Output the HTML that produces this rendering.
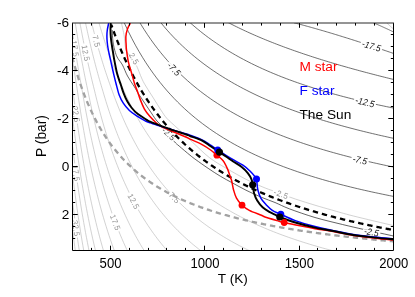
<!DOCTYPE html>
<html><head><meta charset="utf-8"><title>T-P profile</title>
<style>html,body{margin:0;padding:0;background:#fff}body{width:415px;height:297px;overflow:hidden;position:relative;font-family:"Liberation Sans",sans-serif}</style>
</head><body>
<svg width="415" height="297" viewBox="0 0 415 297" style="position:absolute;left:0;top:0;will-change:transform">
<defs><clipPath id="cp"><rect x="72.50" y="23.00" width="321.00" height="227.50"/></clipPath></defs>
<g clip-path="url(#cp)" fill="none">
<path d="M97.88,19.00 L97.89,19.04 L97.93,19.18 L97.99,19.40 L98.08,19.72 L98.20,20.12 L98.34,20.61 L98.50,21.18 L98.69,21.84 L98.91,22.59 L99.15,23.42 L99.42,24.34 L99.71,25.33 L100.03,26.40 L100.38,27.55 L100.74,28.78 L101.14,30.08 L101.56,31.45 L102.00,32.89 L102.47,34.40 L102.97,35.97 L103.49,37.61 L104.03,39.31 L104.60,41.06 L105.19,42.88 L105.81,44.74 L106.46,46.66 L107.12,48.62 L107.82,50.63 L108.54,52.68 L109.28,54.78 L110.05,56.91 L110.84,59.08 L111.65,61.28 L112.49,63.52 L113.36,65.78 L114.25,68.07 L115.16,70.38 L116.10,72.71 L117.06,75.06 L118.05,77.44 L119.06,79.82 L120.09,82.22 L121.15,84.63 L122.23,87.05 L123.33,89.48 L124.43,91.91 L125.53,94.35 L126.66,96.79 L127.82,99.23 L129.00,101.67 L130.20,104.10 L131.42,106.53 L132.67,108.96 L133.94,111.38 L135.24,113.79 L136.56,116.20 L137.91,118.59 L139.27,120.97 L140.67,123.34 L142.08,125.70 L143.52,128.04 L144.98,130.37 L146.47,132.68 L147.98,134.98 L149.52,137.26 L151.07,139.52 L152.66,141.76 L154.26,143.99 L155.89,146.19 L157.55,148.38 L159.22,150.54 L160.92,152.69 L162.65,154.81 L164.40,156.92 L166.17,159.00 L167.97,161.06 L169.79,163.10 L171.63,165.12 L173.50,167.11 L175.39,169.08 L177.31,171.03 L179.24,172.96 L181.21,174.87 L183.19,176.75 L185.20,178.61 L187.24,180.45 L189.30,182.27 L191.38,184.06 L193.48,185.83 L195.61,187.58 L197.77,189.31 L199.94,191.01 L202.14,192.70 L204.37,194.36 L206.62,196.00 L208.89,197.62 L211.19,199.21 L213.51,200.79 L215.85,202.34 L218.22,203.88 L220.61,205.39 L223.02,206.89 L225.46,208.36 L227.92,209.81 L230.41,211.24 L232.92,212.66 L235.45,214.05 L238.01,215.43 L240.59,216.78 L243.20,218.12 L245.83,219.44 L248.48,220.74 L251.16,222.02 L253.86,223.29 L256.58,224.54 L259.33,225.77 L262.10,226.98 L264.90,228.17 L267.72,229.35 L270.56,230.52 L273.43,231.66 L276.32,232.79 L279.23,233.91 L282.17,235.01 L285.13,236.09 L288.12,237.16 L291.13,238.21 L294.16,239.25 L297.22,240.27 L300.30,241.28 L303.40,242.28 L306.53,243.26 L309.69,244.23 L312.86,245.18 L316.06,246.12 L319.29,247.05 L322.53,247.97 L325.80,248.87 L329.10,249.76 L332.42,250.64 L335.76,251.51 L339.13,252.36 L342.52,253.20 L345.93,254.03 L349.37,254.85 L352.83,255.66 L356.32,256.46" stroke="#b4b4b4" stroke-width="0.6"/>
<path d="M90.73,19.00 L90.74,19.05 L90.78,19.22 L90.84,19.49 L90.94,19.88 L91.06,20.37 L91.20,20.97 L91.37,21.67 L91.57,22.48 L91.80,23.39 L92.05,24.41 L92.33,25.52 L92.63,26.73 L92.96,28.04 L93.31,29.44 L93.70,30.93 L94.11,32.51 L94.54,34.18 L95.00,35.93 L95.49,37.75 L96.00,39.66 L96.54,41.64 L97.10,43.68 L97.69,45.80 L98.30,47.98 L98.94,50.22 L99.61,52.52 L100.30,54.88 L101.02,57.28 L101.76,59.74 L102.53,62.23 L103.32,64.77 L104.13,67.35 L104.98,69.97 L105.84,72.62 L106.74,75.29 L107.65,77.99 L108.60,80.72 L109.56,83.47 L110.55,86.23 L111.57,89.02 L112.58,91.81 L113.59,94.62 L114.62,97.43 L115.68,100.25 L116.77,103.07 L117.87,105.89 L119.01,108.72 L120.16,111.54 L121.34,114.35 L122.55,117.16 L123.78,119.96 L125.03,122.76 L126.31,125.54 L127.62,128.31 L128.94,131.06 L130.30,133.80 L131.67,136.52 L133.07,139.23 L134.50,141.92 L135.95,144.59 L137.42,147.23 L138.92,149.86 L140.44,152.46 L141.99,155.05 L143.56,157.60 L145.15,160.14 L146.77,162.65 L148.42,165.13 L150.09,167.59 L151.78,170.03 L153.50,172.43 L155.24,174.81 L157.00,177.17 L158.80,179.50 L160.61,181.80 L162.45,184.07 L164.31,186.32 L166.20,188.53 L168.11,190.72 L170.05,192.89 L172.01,195.02 L173.99,197.13 L176.00,199.21 L178.04,201.27 L180.10,203.29 L182.18,205.29 L184.29,207.27 L186.42,209.21 L188.57,211.13 L190.75,213.03 L192.96,214.89 L195.19,216.73 L197.44,218.55 L199.72,220.34 L202.02,222.10 L204.34,223.84 L206.70,225.55 L209.07,227.24 L211.47,228.91 L213.89,230.55 L216.34,232.17 L218.81,233.76 L221.31,235.33 L223.83,236.88 L226.38,238.40 L228.95,239.91 L231.54,241.39 L234.16,242.84 L236.80,244.28 L239.47,245.70 L242.16,247.09 L244.88,248.47 L247.62,249.82 L250.38,251.16 L253.17,252.47 L255.98,253.76 L258.82,255.04 L261.68,256.30" stroke="#b4b4b4" stroke-width="0.6"/>
<path d="M84.70,19.00 L84.72,19.07 L84.76,19.26 L84.83,19.59 L84.92,20.05 L85.04,20.64 L85.20,21.36 L85.37,22.21 L85.58,23.18 L85.81,24.27 L86.07,25.49 L86.36,26.82 L86.67,28.27 L87.01,29.84 L87.38,31.51 L87.77,33.29 L88.20,35.17 L88.64,37.16 L89.12,39.24 L89.62,41.41 L90.15,43.67 L90.70,46.02 L91.28,48.44 L91.89,50.95 L92.52,53.52 L93.18,56.17 L93.87,58.88 L94.58,61.64 L95.32,64.47 L96.08,67.35 L96.87,70.27 L97.69,73.25 L98.53,76.26 L99.40,79.30 L100.29,82.38 L101.20,85.49 L102.15,88.63 L103.08,91.79 L104.01,94.96 L104.97,98.16 L105.95,101.36 L106.95,104.58 L107.98,107.80 L109.04,111.02 L110.12,114.25 L111.23,117.47 L112.36,120.69 L113.51,123.90 L114.69,127.11 L115.89,130.31 L117.12,133.49 L118.38,136.66 L119.66,139.81 L120.96,142.94 L122.29,146.06 L123.64,149.15 L125.02,152.22 L126.42,155.27 L127.85,158.30 L129.30,161.30 L130.78,164.27 L132.28,167.21 L133.81,170.13 L135.36,173.02 L136.94,175.88 L138.54,178.71 L140.17,181.50 L141.82,184.27 L143.50,187.00 L145.20,189.71 L146.92,192.38 L148.68,195.02 L150.45,197.62 L152.25,200.19 L154.08,202.73 L155.93,205.24 L157.80,207.71 L159.70,210.15 L161.63,212.56 L163.58,214.93 L165.55,217.28 L167.55,219.59 L169.57,221.86 L171.62,224.11 L173.70,226.32 L175.79,228.50 L177.92,230.65 L180.07,232.77 L182.24,234.85 L184.44,236.91 L186.66,238.93 L188.91,240.93 L191.18,242.89 L193.48,244.83 L195.80,246.73 L198.15,248.61 L200.52,250.46 L202.91,252.28 L205.34,254.07 L207.78,255.83" stroke="#b4b4b4" stroke-width="0.6"/>
<path d="M79.24,19.00 L79.25,19.08 L79.30,19.32 L79.37,19.71 L79.47,20.26 L79.59,20.97 L79.75,21.82 L79.93,22.83 L80.15,23.99 L80.39,25.30 L80.65,26.75 L80.95,28.34 L81.27,30.06 L81.63,31.92 L82.01,33.91 L82.41,36.03 L82.85,38.26 L83.31,40.61 L83.80,43.07 L84.32,45.64 L84.86,48.31 L85.43,51.08 L86.03,53.94 L86.66,56.88 L87.31,59.91 L87.99,63.01 L88.70,66.18 L89.43,69.42 L90.19,72.72 L90.97,76.07 L91.78,79.48 L92.62,82.93 L93.49,86.43 L94.37,89.96 L95.22,93.52 L96.09,97.11 L96.99,100.72 L97.91,104.35 L98.86,108.00 L99.83,111.66 L100.83,115.33 L101.85,119.00 L102.90,122.68 L103.98,126.35 L105.08,130.02 L106.20,133.67 L107.35,137.32 L108.52,140.96 L109.72,144.58 L110.95,148.18 L112.20,151.76 L113.48,155.31 L114.78,158.85 L116.10,162.36 L117.46,165.84 L118.83,169.29 L120.24,172.71 L121.66,176.10 L123.12,179.46 L124.59,182.78 L126.10,186.07 L127.63,189.33 L129.18,192.54 L130.76,195.72 L132.36,198.87 L133.99,201.97 L135.65,205.04 L137.33,208.07 L139.03,211.06 L140.76,214.01 L142.52,216.92 L144.30,219.79 L146.11,222.62 L147.94,225.42 L149.80,228.17 L151.68,230.88 L153.59,233.56 L155.52,236.19 L157.48,238.79 L159.46,241.35 L161.47,243.87 L163.50,246.35 L165.56,248.79 L167.65,251.20 L169.76,253.57 L171.89,255.90" stroke="#b4b4b4" stroke-width="0.6"/>
<path d="M74.64,19.00 L74.65,19.09 L74.69,19.37 L74.77,19.83 L74.87,20.48 L75.00,21.31 L75.16,22.32 L75.35,23.50 L75.57,24.86 L75.82,26.40 L76.09,28.09 L76.40,29.96 L76.73,31.98 L77.10,34.15 L77.49,36.47 L77.91,38.94 L78.35,41.55 L78.83,44.28 L79.33,47.15 L79.87,50.13 L80.43,53.23 L81.01,56.44 L81.63,59.75 L82.27,63.15 L82.94,66.65 L83.64,70.23 L84.36,73.88 L85.11,77.60 L85.89,81.39 L86.70,85.24 L87.53,89.14 L88.33,93.09 L89.14,97.07 L89.97,101.10 L90.83,105.15 L91.71,109.23 L92.62,113.32 L93.56,117.44 L94.52,121.56 L95.51,125.69 L96.52,129.83 L97.56,133.96 L98.62,138.08 L99.71,142.20 L100.82,146.30 L101.96,150.39 L103.13,154.46 L104.32,158.51 L105.54,162.54 L106.78,166.53 L108.05,170.50 L109.35,174.44 L110.67,178.35 L112.01,182.22 L113.38,186.05 L114.78,189.85 L116.20,193.61 L117.65,197.33 L119.12,201.01 L120.62,204.64 L122.15,208.23 L123.70,211.78 L125.28,215.28 L126.88,218.74 L128.50,222.16 L130.16,225.52 L131.84,228.85 L133.54,232.12 L135.27,235.35 L137.03,238.53 L138.81,241.67 L140.62,244.76 L142.45,247.80 L144.31,250.80 L146.19,253.75" stroke="#b4b4b4" stroke-width="0.6"/>
<path d="M70.64,19.00 L70.66,19.11 L70.70,19.43 L70.78,19.97 L70.88,20.72 L71.02,21.68 L71.18,22.85 L71.38,24.23 L71.60,25.80 L71.86,27.58 L72.14,29.54 L72.46,31.70 L72.80,34.03 L73.17,36.54 L73.58,39.23 L74.01,42.07 L74.47,45.07 L74.96,48.22 L75.48,51.51 L76.02,54.94 L76.60,58.50 L77.20,62.17 L77.83,65.96 L78.49,69.85 L79.18,73.83 L79.89,77.91 L80.64,82.07 L81.40,86.30 L82.19,90.60 L82.93,94.96 L83.70,99.37 L84.49,103.83 L85.30,108.33 L86.15,112.86 L87.02,117.41 L87.91,121.99 L88.83,126.59 L89.78,131.19 L90.75,135.80 L91.75,140.41 L92.78,145.01 L93.83,149.61 L94.90,154.19 L96.01,158.75 L97.14,163.30 L98.29,167.82 L99.47,172.31 L100.68,176.77 L101.91,181.20 L103.17,185.59 L104.45,189.95 L105.76,194.26 L107.10,198.53 L108.46,202.76 L109.85,206.95 L111.26,211.08 L112.70,215.17 L114.17,219.21 L115.66,223.20 L117.18,227.13 L118.72,231.02 L120.29,234.85 L121.89,238.63 L123.51,242.35 L125.16,246.03 L126.83,249.65 L128.53,253.21" stroke="#b4b4b4" stroke-width="0.6"/>
<path d="M68.30,28.07 L68.31,28.19 L68.36,28.55 L68.44,29.14 L68.54,29.97 L68.68,31.03 L68.85,32.32 L69.05,33.84 L69.28,35.58 L69.54,37.54 L69.83,39.70 L70.15,42.07 L70.50,44.65 L70.88,47.41 L71.29,50.36 L71.73,53.48 L72.20,56.78 L72.70,60.24 L73.23,63.85 L73.78,67.60 L74.37,71.49 L74.98,75.51 L75.63,79.65 L76.30,83.90 L77.00,88.25 L77.67,92.69 L78.34,97.22 L79.03,101.82 L79.75,106.49 L80.49,111.23 L81.27,116.01 L82.06,120.84 L82.89,125.71 L83.74,130.61 L84.61,135.53 L85.51,140.47 L86.44,145.42 L87.40,150.37 L88.38,155.33 L89.38,160.28 L90.42,165.22 L91.48,170.15 L92.56,175.05 L93.67,179.94 L94.81,184.79 L95.97,189.62 L97.16,194.41 L98.38,199.16 L99.62,203.87 L100.89,208.54 L102.18,213.16 L103.50,217.74 L104.85,222.27 L106.22,226.74 L107.62,231.17 L109.05,235.54 L110.50,239.85 L111.97,244.11 L113.48,248.32 L115.01,252.46" stroke="#b4b4b4" stroke-width="0.6"/>
<path d="M68.94,61.07 L68.95,61.19 L69.00,61.55 L69.08,62.14 L69.18,62.97 L69.32,64.03 L69.49,65.32 L69.69,66.84 L69.92,68.58 L70.18,70.54 L70.47,72.70 L70.79,75.07 L71.14,77.65 L71.52,80.41 L71.93,83.36 L72.37,86.48 L72.84,89.78 L73.28,93.24 L73.74,96.85 L74.22,100.60 L74.73,104.49 L75.27,108.51 L75.83,112.65 L76.42,116.90 L77.03,121.25 L77.67,125.69 L78.34,130.22 L79.03,134.82 L79.75,139.49 L80.49,144.23 L81.27,149.01 L82.06,153.84 L82.89,158.71 L83.74,163.61 L84.61,168.53 L85.51,173.47 L86.44,178.42 L87.40,183.37 L88.38,188.33 L89.38,193.28 L90.42,198.22 L91.48,203.15 L92.56,208.05 L93.67,212.94 L94.81,217.79 L95.97,222.62 L97.16,227.41 L98.38,232.16 L99.62,236.87 L100.89,241.54 L102.18,246.16 L103.50,250.74 L104.85,255.27" stroke="#b4b4b4" stroke-width="0.6"/>
<path d="M69.50,91.07 L69.51,91.19 L69.55,91.55 L69.62,92.14 L69.71,92.97 L69.83,94.03 L69.97,95.32 L70.14,96.84 L70.34,98.58 L70.56,100.54 L70.81,102.70 L71.08,105.07 L71.38,107.65 L71.71,110.41 L72.06,113.36 L72.44,116.48 L72.85,119.78 L73.28,123.24 L73.74,126.85 L74.22,130.60 L74.73,134.49 L75.27,138.51 L75.83,142.65 L76.42,146.90 L77.03,151.25 L77.67,155.69 L78.34,160.22 L79.03,164.82 L79.75,169.49 L80.49,174.23 L81.27,179.01 L82.06,183.84 L82.89,188.71 L83.74,193.61 L84.61,198.53 L85.51,203.47 L86.44,208.42 L87.40,213.37 L88.38,218.33 L89.38,223.28 L90.42,228.22 L91.48,233.15 L92.56,238.05 L93.67,242.94 L94.81,247.79 L95.97,252.62" stroke="#b4b4b4" stroke-width="0.6"/>
<path d="M69.50,120.07 L69.51,120.19 L69.55,120.55 L69.62,121.14 L69.71,121.97 L69.83,123.03 L69.97,124.32 L70.14,125.84 L70.34,127.58 L70.56,129.54 L70.81,131.70 L71.08,134.07 L71.38,136.65 L71.71,139.41 L72.06,142.36 L72.44,145.48 L72.85,148.78 L73.28,152.24 L73.74,155.85 L74.22,159.60 L74.73,163.49 L75.27,167.51 L75.83,171.65 L76.42,175.90 L77.03,180.25 L77.67,184.69 L78.34,189.22 L79.03,193.82 L79.75,198.49 L80.49,203.23 L81.27,208.01 L82.06,212.84 L82.89,217.71 L83.74,222.61 L84.61,227.53 L85.51,232.47 L86.44,237.42 L87.40,242.37 L88.38,247.33 L89.38,252.28" stroke="#b4b4b4" stroke-width="0.6"/>
<path d="M69.50,148.07 L69.51,148.19 L69.55,148.55 L69.62,149.14 L69.71,149.97 L69.83,151.03 L69.97,152.32 L70.14,153.84 L70.34,155.58 L70.56,157.54 L70.81,159.70 L71.08,162.07 L71.38,164.65 L71.71,167.41 L72.06,170.36 L72.44,173.48 L72.85,176.78 L73.28,180.24 L73.74,183.85 L74.22,187.60 L74.73,191.49 L75.27,195.51 L75.83,199.65 L76.42,203.90 L77.03,208.25 L77.67,212.69 L78.34,217.22 L79.03,221.82 L79.75,226.49 L80.49,231.23 L81.27,236.01 L82.06,240.84 L82.89,245.71 L83.74,250.61 L84.61,255.53" stroke="#b4b4b4" stroke-width="0.6"/>
<path d="M69.50,175.07 L69.51,175.19 L69.55,175.55 L69.62,176.14 L69.71,176.97 L69.83,178.03 L69.97,179.32 L70.14,180.84 L70.34,182.58 L70.56,184.54 L70.81,186.70 L71.08,189.07 L71.38,191.65 L71.71,194.41 L72.06,197.36 L72.44,200.48 L72.85,203.78 L73.28,207.24 L73.74,210.85 L74.22,214.60 L74.73,218.49 L75.27,222.51 L75.83,226.65 L76.42,230.90 L77.03,235.25 L77.67,239.69 L78.34,244.22 L79.03,248.82 L79.75,253.49" stroke="#b4b4b4" stroke-width="0.6"/>
<path d="M69.50,203.07 L69.51,203.19 L69.55,203.55 L69.62,204.14 L69.71,204.97 L69.83,206.03 L69.97,207.32 L70.14,208.84 L70.34,210.58 L70.56,212.54 L70.81,214.70 L71.08,217.07 L71.38,219.65 L71.71,222.41 L72.06,225.36 L72.44,228.48 L72.85,231.78 L73.28,235.24 L73.74,238.85 L74.22,242.60 L74.73,246.49 L75.27,250.51 L75.83,254.65" stroke="#b4b4b4" stroke-width="0.6"/>
<path d="M121.50,23.00 C121.95,25.17 123.58,32.20 124.20,36.00 C124.82,39.80 124.80,43.20 125.20,45.80 C125.60,48.40 125.63,49.73 126.60,51.60 C127.57,53.47 129.43,54.85 131.00,57.00 C132.57,59.15 134.17,60.83 136.00,64.50 C137.83,68.17 140.27,75.25 142.00,79.00 C143.73,82.75 144.40,83.67 146.40,87.00 C148.40,90.33 151.58,95.17 154.00,99.00 C156.42,102.83 158.73,106.75 160.90,110.00 C163.07,113.25 164.17,115.40 167.00,118.50 C169.83,121.60 173.67,124.67 177.90,128.60 C182.13,132.53 187.17,137.28 192.40,142.10 C197.63,146.92 203.65,153.13 209.30,157.50 C214.95,161.87 220.18,164.67 226.30,168.30 C232.42,171.93 240.05,176.23 246.00,179.30 C251.95,182.37 257.17,184.65 262.00,186.70 C266.83,188.75 269.45,189.55 275.00,191.60 C280.55,193.65 288.63,196.73 295.30,199.00 C301.97,201.27 308.93,203.37 315.00,205.20 C321.07,207.03 325.30,208.20 331.70,210.00 C338.10,211.80 343.10,213.40 353.40,216.00 C363.70,218.60 386.82,224.00 393.50,225.60" stroke="#b4b4b4" stroke-width="0.6"/>
<path d="M386.8,23 L393.5,29" stroke="#b4b4b4" stroke-width="0.6"/>
<path d="M121.30,16.10 L124.83,24.07 L128.36,31.54 L131.88,38.56 L135.41,45.16 L138.94,51.39 L142.47,57.28 L145.99,62.85 L149.52,68.13 L153.05,73.14 L156.58,77.91 L160.11,82.44 L163.63,86.76 L167.16,90.88 L170.69,94.81 L174.22,98.57 L177.75,102.17 L181.27,105.62 L184.80,108.93 L188.33,112.10 L191.86,115.15 L195.38,118.08 L198.91,120.90 L202.44,123.62 L205.97,126.23 L209.50,128.76 L213.02,131.19 L216.55,133.54 L220.08,135.81 L223.61,138.01 L227.14,140.14 L230.66,142.19 L234.19,144.19 L237.72,146.12 L241.25,147.99 L244.77,149.80 L248.30,151.57 L251.83,153.28 L255.36,154.94 L258.89,156.56 L262.41,158.13 L265.94,159.65 L269.47,161.14 L273.00,162.59 L276.53,164.00 L280.05,165.37 L283.58,166.71 L287.11,168.02 L290.64,169.29 L294.16,170.53 L297.69,171.75 L301.22,172.93 L304.75,174.09 L308.28,175.22 L311.80,176.32 L315.33,177.40 L318.86,178.46 L322.39,179.49 L325.92,180.50 L329.44,181.49 L332.97,182.46 L336.50,183.41 L340.03,184.33 L343.55,185.24 L347.08,186.13 L350.61,187.01 L354.14,187.86 L357.67,188.71 L361.19,189.53 L364.72,190.34 L368.25,191.13 L371.78,191.91 L375.31,192.67 L378.83,193.42 L382.36,194.16 L385.89,194.89 L389.42,195.60 L392.94,196.30 L396.47,196.98 L400.00,197.66" stroke="#333" stroke-width="0.7"/>
<path d="M137.50,18.59 L140.82,24.22 L144.15,29.56 L147.47,34.64 L150.79,39.47 L154.11,44.07 L157.44,48.46 L160.76,52.66 L164.08,56.67 L167.41,60.51 L170.73,64.19 L174.05,67.72 L177.37,71.11 L180.70,74.36 L184.02,77.49 L187.34,80.50 L190.66,83.40 L193.99,86.20 L197.31,88.90 L200.63,91.50 L203.96,94.02 L207.28,96.45 L210.60,98.80 L213.92,101.08 L217.25,103.28 L220.57,105.42 L223.89,107.49 L227.22,109.50 L230.54,111.45 L233.86,113.34 L237.18,115.18 L240.51,116.97 L243.83,118.71 L247.15,120.40 L250.47,122.05 L253.80,123.65 L257.12,125.21 L260.44,126.73 L263.77,128.22 L267.09,129.66 L270.41,131.07 L273.73,132.45 L277.06,133.80 L280.38,135.11 L283.70,136.39 L287.03,137.65 L290.35,138.87 L293.67,140.07 L296.99,141.25 L300.32,142.39 L303.64,143.52 L306.96,144.62 L310.28,145.70 L313.61,146.75 L316.93,147.79 L320.25,148.80 L323.58,149.79 L326.90,150.77 L330.22,151.73 L333.54,152.66 L336.87,153.59 L340.19,154.49 L343.51,155.38 L346.84,156.25 L350.16,157.11 L353.48,157.95 L356.80,158.77 L360.13,159.59 L363.45,160.39 L366.77,161.17 L370.09,161.95 L373.42,162.71 L376.74,163.45 L380.06,164.19 L383.39,164.91 L386.71,165.63 L390.03,166.33 L393.35,167.02 L396.68,167.70 L400.00,168.38" stroke="#333" stroke-width="0.7"/>
<path d="M158.00,19.14 L161.06,22.98 L164.13,26.66 L167.19,30.21 L170.25,33.61 L173.32,36.89 L176.38,40.04 L179.44,43.09 L182.51,46.02 L185.57,48.86 L188.63,51.59 L191.70,54.24 L194.76,56.80 L197.82,59.28 L200.89,61.68 L203.95,64.00 L207.01,66.26 L210.08,68.45 L213.14,70.57 L216.20,72.63 L219.27,74.63 L222.33,76.58 L225.39,78.48 L228.46,80.32 L231.52,82.11 L234.58,83.86 L237.65,85.56 L240.71,87.22 L243.77,88.84 L246.84,90.42 L249.90,91.96 L252.96,93.46 L256.03,94.93 L259.09,96.37 L262.15,97.77 L265.22,99.14 L268.28,100.48 L271.34,101.79 L274.41,103.07 L277.47,104.33 L280.53,105.56 L283.59,106.76 L286.66,107.94 L289.72,109.09 L292.78,110.23 L295.85,111.34 L298.91,112.43 L301.97,113.49 L305.04,114.54 L308.10,115.57 L311.16,116.58 L314.23,117.57 L317.29,118.55 L320.35,119.50 L323.42,120.44 L326.48,121.37 L329.54,122.28 L332.61,123.17 L335.67,124.05 L338.73,124.91 L341.80,125.76 L344.86,126.60 L347.92,127.42 L350.99,128.23 L354.05,129.03 L357.11,129.82 L360.18,130.59 L363.24,131.35 L366.30,132.10 L369.37,132.84 L372.43,133.57 L375.49,134.29 L378.56,135.00 L381.62,135.70 L384.68,136.39 L387.75,137.07 L390.81,137.74 L393.87,138.40 L396.94,139.06 L400.00,139.70" stroke="#333" stroke-width="0.7"/>
<path d="M186.90,19.73 L189.60,22.20 L192.29,24.60 L194.99,26.92 L197.69,29.18 L200.39,31.37 L203.08,33.50 L205.78,35.57 L208.48,37.58 L211.18,39.54 L213.87,41.44 L216.57,43.30 L219.27,45.10 L221.97,46.86 L224.66,48.58 L227.36,50.25 L230.06,51.88 L232.76,53.47 L235.45,55.02 L238.15,56.54 L240.85,58.02 L243.55,59.46 L246.24,60.88 L248.94,62.26 L251.64,63.61 L254.34,64.93 L257.03,66.22 L259.73,67.48 L262.43,68.72 L265.13,69.93 L267.82,71.11 L270.52,72.27 L273.22,73.41 L275.92,74.53 L278.61,75.62 L281.31,76.69 L284.01,77.74 L286.71,78.77 L289.40,79.77 L292.10,80.76 L294.80,81.74 L297.50,82.69 L300.19,83.63 L302.89,84.54 L305.59,85.45 L308.29,86.33 L310.98,87.20 L313.68,88.06 L316.38,88.90 L319.08,89.73 L321.77,90.54 L324.47,91.34 L327.17,92.12 L329.87,92.90 L332.56,93.66 L335.26,94.40 L337.96,95.14 L340.66,95.86 L343.35,96.58 L346.05,97.28 L348.75,97.97 L351.45,98.65 L354.14,99.32 L356.84,99.98 L359.54,100.63 L362.24,101.27 L364.93,101.90 L367.63,102.52 L370.33,103.13 L373.03,103.73 L375.72,104.33 L378.42,104.91 L381.12,105.49 L383.82,106.06 L386.51,106.63 L389.21,107.18 L391.91,107.73 L394.61,108.27 L397.30,108.80 L400.00,109.33" stroke="#333" stroke-width="0.7"/>
<path d="M223.00,19.79 L225.24,20.99 L227.48,22.18 L229.72,23.34 L231.96,24.49 L234.20,25.62 L236.44,26.73 L238.68,27.82 L240.92,28.90 L243.16,29.96 L245.41,31.01 L247.65,32.04 L249.89,33.05 L252.13,34.06 L254.37,35.04 L256.61,36.02 L258.85,36.98 L261.09,37.93 L263.33,38.86 L265.57,39.78 L267.81,40.70 L270.05,41.60 L272.29,42.48 L274.53,43.36 L276.77,44.23 L279.01,45.09 L281.25,45.93 L283.49,46.77 L285.73,47.60 L287.97,48.42 L290.22,49.22 L292.46,50.02 L294.70,50.82 L296.94,51.60 L299.18,52.37 L301.42,53.14 L303.66,53.90 L305.90,54.65 L308.14,55.39 L310.38,56.13 L312.62,56.86 L314.86,57.58 L317.10,58.30 L319.34,59.00 L321.58,59.71 L323.82,60.40 L326.06,61.09 L328.30,61.77 L330.54,62.45 L332.78,63.12 L335.03,63.79 L337.27,64.44 L339.51,65.10 L341.75,65.75 L343.99,66.39 L346.23,67.03 L348.47,67.66 L350.71,68.29 L352.95,68.91 L355.19,69.53 L357.43,70.14 L359.67,70.75 L361.91,71.36 L364.15,71.96 L366.39,72.55 L368.63,73.14 L370.87,73.73 L373.11,74.31 L375.35,74.89 L377.59,75.47 L379.84,76.04 L382.08,76.61 L384.32,77.17 L386.56,77.73 L388.80,78.29 L391.04,78.84 L393.28,79.39 L395.52,79.93 L397.76,80.48 L400.00,81.02" stroke="#333" stroke-width="0.7"/>
<path d="M294.00,22.76 L295.34,23.10 L296.68,23.45 L298.03,23.81 L299.37,24.16 L300.71,24.52 L302.05,24.88 L303.39,25.24 L304.73,25.60 L306.08,25.97 L307.42,26.33 L308.76,26.70 L310.10,27.08 L311.44,27.45 L312.78,27.83 L314.13,28.20 L315.47,28.59 L316.81,28.97 L318.15,29.35 L319.49,29.74 L320.84,30.13 L322.18,30.52 L323.52,30.91 L324.86,31.30 L326.20,31.70 L327.54,32.10 L328.89,32.49 L330.23,32.90 L331.57,33.30 L332.91,33.70 L334.25,34.11 L335.59,34.52 L336.94,34.93 L338.28,35.34 L339.62,35.75 L340.96,36.16 L342.30,36.58 L343.65,37.00 L344.99,37.42 L346.33,37.84 L347.67,38.26 L349.01,38.68 L350.35,39.11 L351.70,39.53 L353.04,39.96 L354.38,40.39 L355.72,40.82 L357.06,41.25 L358.41,41.68 L359.75,42.12 L361.09,42.55 L362.43,42.99 L363.77,43.43 L365.11,43.87 L366.46,44.31 L367.80,44.75 L369.14,45.19 L370.48,45.64 L371.82,46.08 L373.16,46.53 L374.51,46.98 L375.85,47.43 L377.19,47.88 L378.53,48.33 L379.87,48.78 L381.22,49.24 L382.56,49.69 L383.90,50.15 L385.24,50.60 L386.58,51.06 L387.92,51.52 L389.27,51.98 L390.61,52.44 L391.95,52.90 L393.29,53.37 L394.63,53.83 L395.97,54.30 L397.32,54.76 L398.66,55.23 L400.00,55.70" stroke="#333" stroke-width="0.7"/>
<path d="M370.30,21.39 L370.68,21.55 L371.05,21.71 L371.43,21.87 L371.80,22.04 L372.18,22.20 L372.56,22.36 L372.93,22.53 L373.31,22.69 L373.68,22.86 L374.06,23.02 L374.44,23.19 L374.81,23.35 L375.19,23.52 L375.56,23.69 L375.94,23.85 L376.32,24.02 L376.69,24.19 L377.07,24.35 L377.44,24.52 L377.82,24.69 L378.19,24.86 L378.57,25.02 L378.95,25.19 L379.32,25.36 L379.70,25.53 L380.07,25.70 L380.45,25.87 L380.83,26.04 L381.20,26.21 L381.58,26.38 L381.95,26.55 L382.33,26.72 L382.71,26.89 L383.08,27.07 L383.46,27.24 L383.83,27.41 L384.21,27.58 L384.59,27.75 L384.96,27.93 L385.34,28.10 L385.71,28.27 L386.09,28.45 L386.47,28.62 L386.84,28.80 L387.22,28.97 L387.59,29.14 L387.97,29.32 L388.35,29.49 L388.72,29.67 L389.10,29.85 L389.47,30.02 L389.85,30.20 L390.23,30.37 L390.60,30.55 L390.98,30.73 L391.35,30.91 L391.73,31.08 L392.11,31.26 L392.48,31.44 L392.86,31.62 L393.23,31.79 L393.61,31.97 L393.98,32.15 L394.36,32.33 L394.74,32.51 L395.11,32.69 L395.49,32.87 L395.86,33.05 L396.24,33.23 L396.62,33.41 L396.99,33.59 L397.37,33.77 L397.74,33.95 L398.12,34.14 L398.50,34.32 L398.87,34.50 L399.25,34.68 L399.62,34.86 L400.00,35.05" stroke="#333" stroke-width="0.7"/>
<path d="M112.20,30.00 C112.33,31.98 112.47,38.13 113.00,41.90 C113.53,45.67 114.58,49.85 115.40,52.60 C116.22,55.35 116.72,56.33 117.90,58.40 C119.08,60.47 120.90,62.07 122.50,65.00 C124.10,67.93 125.58,72.47 127.50,76.00 C129.42,79.53 132.07,83.08 134.00,86.20 C135.93,89.32 136.22,90.25 139.10,94.70 C141.98,99.15 148.32,108.52 151.30,112.90 C154.28,117.28 154.58,118.15 157.00,121.00 C159.42,123.85 162.92,126.58 165.80,130.00 C168.68,133.42 172.08,138.83 174.30,141.50 C176.52,144.17 176.48,143.72 179.10,146.00 C181.72,148.28 187.18,152.90 190.00,155.20 C192.82,157.50 192.98,157.62 196.00,159.80 C199.02,161.98 204.05,165.57 208.10,168.30 C212.15,171.03 216.25,173.77 220.30,176.20 C224.35,178.63 228.12,180.57 232.40,182.90 C236.68,185.23 241.07,187.77 246.00,190.20 C250.93,192.63 257.17,195.45 262.00,197.50 C266.83,199.55 270.45,200.62 275.00,202.50 C279.55,204.38 282.63,206.30 289.30,208.80 C295.97,211.30 306.13,214.88 315.00,217.50 C323.87,220.12 334.33,222.50 342.50,224.50 C350.67,226.50 355.50,227.58 364.00,229.50 C372.50,231.42 388.58,234.92 393.50,236.00" stroke="#222" stroke-width="0.7"/>
<g transform="translate(75.0,48.5) rotate(82.2)"><rect x="-9.62" y="-1.6" width="19.25" height="3.2" fill="#fff"/><text text-anchor="middle" dy="0.36em" font-family="Liberation Sans, sans-serif" font-size="8.0" fill="#929292" textLength="16.2" lengthAdjust="spacing">17.5</text></g>
<g transform="translate(85.8,53.0) rotate(79.2)"><rect x="-9.62" y="-1.6" width="19.25" height="3.2" fill="#fff"/><text text-anchor="middle" dy="0.36em" font-family="Liberation Sans, sans-serif" font-size="8.0" fill="#929292" textLength="16.2" lengthAdjust="spacing">12.5</text></g>
<g transform="translate(96.4,41.1) rotate(75.8)"><rect x="-7.40" y="-1.6" width="14.80" height="3.2" fill="#fff"/><text text-anchor="middle" dy="0.36em" font-family="Liberation Sans, sans-serif" font-size="8.0" fill="#929292" textLength="11.8" lengthAdjust="spacing">7.5</text></g>
<g transform="translate(76.0,114.0) rotate(82.1)"><rect x="-9.62" y="-1.6" width="19.25" height="3.2" fill="#fff"/><text text-anchor="middle" dy="0.36em" font-family="Liberation Sans, sans-serif" font-size="8.0" fill="#929292" textLength="16.2" lengthAdjust="spacing">22.5</text></g>
<g transform="translate(76.0,173.0) rotate(82.1)"><rect x="-9.62" y="-1.6" width="19.25" height="3.2" fill="#fff"/><text text-anchor="middle" dy="0.36em" font-family="Liberation Sans, sans-serif" font-size="8.0" fill="#929292" textLength="16.2" lengthAdjust="spacing">17.5</text></g>
<g transform="translate(76.0,228.0) rotate(82.1)"><rect x="-9.62" y="-1.6" width="19.25" height="3.2" fill="#fff"/><text text-anchor="middle" dy="0.36em" font-family="Liberation Sans, sans-serif" font-size="8.0" fill="#929292" textLength="16.2" lengthAdjust="spacing">32.5</text></g>
<g transform="translate(133.6,201.3) rotate(62.1)"><rect x="-9.62" y="-1.6" width="19.25" height="3.2" fill="#fff"/><text text-anchor="middle" dy="0.36em" font-family="Liberation Sans, sans-serif" font-size="8.0" fill="#929292" textLength="16.2" lengthAdjust="spacing">12.5</text></g>
<g transform="translate(115.4,222.4) rotate(69.3)"><rect x="-9.62" y="-1.6" width="19.25" height="3.2" fill="#fff"/><text text-anchor="middle" dy="0.36em" font-family="Liberation Sans, sans-serif" font-size="8.0" fill="#929292" textLength="16.2" lengthAdjust="spacing">17.5</text></g>
<g transform="translate(134.0,58.5) rotate(60.0)"><rect x="-7.40" y="-1.6" width="14.80" height="3.2" fill="#fff"/><text text-anchor="middle" dy="0.36em" font-family="Liberation Sans, sans-serif" font-size="8.0" fill="#929292" textLength="11.8" lengthAdjust="spacing">2.5</text></g>
<g transform="translate(281.0,194.0) rotate(20.0)"><rect x="-8.85" y="-1.6" width="17.70" height="3.2" fill="#fff"/><text text-anchor="middle" dy="0.36em" font-family="Liberation Sans, sans-serif" font-size="8.0" fill="#929292" textLength="14.7" lengthAdjust="spacing">-2.5</text></g>
<g transform="translate(174.4,197.6) rotate(46.2)"><rect x="-7.40" y="-1.6" width="14.80" height="3.2" fill="#fff"/><text text-anchor="middle" dy="0.36em" font-family="Liberation Sans, sans-serif" font-size="8.0" fill="#929292" textLength="11.8" lengthAdjust="spacing">7.5</text></g>
<g transform="translate(174.0,69.0) rotate(46.0)"><rect x="-8.82" y="-1.6" width="17.65" height="3.2" fill="#fff"/><text text-anchor="middle" dy="0.36em" font-family="Liberation Sans, sans-serif" font-size="9.3" font-style="italic" fill="#111" textLength="14.6" lengthAdjust="spacingAndGlyphs">-7.5</text></g>
<g transform="translate(371.4,45.8) rotate(16.0)"><rect x="-11.19" y="-1.6" width="22.37" height="3.2" fill="#fff"/><text text-anchor="middle" dy="0.36em" font-family="Liberation Sans, sans-serif" font-size="9.3" font-style="italic" fill="#111" textLength="19.4" lengthAdjust="spacingAndGlyphs">-17.5</text></g>
<g transform="translate(365.0,102.0) rotate(13.0)"><rect x="-11.19" y="-1.6" width="22.37" height="3.2" fill="#fff"/><text text-anchor="middle" dy="0.36em" font-family="Liberation Sans, sans-serif" font-size="9.3" font-style="italic" fill="#111" textLength="19.4" lengthAdjust="spacingAndGlyphs">-12.5</text></g>
<g transform="translate(360.0,160.0) rotate(12.0)"><rect x="-8.82" y="-1.6" width="17.65" height="3.2" fill="#fff"/><text text-anchor="middle" dy="0.36em" font-family="Liberation Sans, sans-serif" font-size="9.3" font-style="italic" fill="#111" textLength="14.6" lengthAdjust="spacingAndGlyphs">-7.5</text></g>
<g transform="translate(371.5,232.0) rotate(10.0)"><rect x="-8.82" y="-1.6" width="17.65" height="3.2" fill="#fff"/><text text-anchor="middle" dy="0.36em" font-family="Liberation Sans, sans-serif" font-size="9.3" font-style="italic" fill="#111" textLength="14.6" lengthAdjust="spacingAndGlyphs">-2.5</text></g>
<g transform="translate(168.6,133.9) rotate(44.0)"><rect x="-8.85" y="-1.6" width="17.70" height="3.2" fill="#fff"/><text text-anchor="middle" dy="0.36em" font-family="Liberation Sans, sans-serif" font-size="8.0" fill="#444" textLength="14.7" lengthAdjust="spacing">-2.5</text></g>
<path d="M69.50,46.25 L70.33,49.64 L71.16,52.94 L71.98,56.14 L72.81,59.26 L73.64,62.28 L74.47,65.22 L75.30,68.08 L76.13,70.86 L76.95,73.57 L77.78,76.21 L78.61,78.78 L79.44,81.28 L80.27,83.72 L81.10,86.10 L81.92,88.42 L82.75,90.68 L83.58,92.89 L84.41,95.05 L85.24,97.15 L86.07,99.21 L86.89,101.22 L87.72,103.18 L88.55,105.10 L89.38,106.98 L90.21,108.82 L91.04,110.62 L91.86,112.37 L92.69,114.09 L93.52,115.78 L94.35,117.43 L95.18,119.04 L96.01,120.63 L96.83,122.18 L97.66,123.70 L98.49,125.19 L99.32,126.65 L100.15,128.08 L100.98,129.48 L101.80,130.86 L102.63,132.21 L103.46,133.54 L104.29,134.84 L105.12,136.12 L105.95,137.38 L106.77,138.61 L107.60,139.82 L108.43,141.01 L109.26,142.18 L110.09,143.32 L110.92,144.45 L111.74,145.56 L112.57,146.65 L113.40,147.72 L114.23,148.78 L115.06,149.81 L115.89,150.83 L116.71,151.84 L117.54,152.82 L118.37,153.80 L119.20,154.75 L120.03,155.69 L120.86,156.62 L121.68,157.53 L122.51,158.43 L123.34,159.31 L124.17,160.18 L125.00,161.04 L125.83,161.88 L126.65,162.72 L127.48,163.54 L128.31,164.34 L129.14,165.14 L129.97,165.93 L130.80,166.70 L131.62,167.46 L132.45,168.21 L133.28,168.96 L134.11,169.69 L134.94,170.41 L135.77,171.12 L136.59,171.82 L137.42,172.51 L138.25,173.20 L139.08,173.87 L139.91,174.54 L140.74,175.19 L141.56,175.84 L142.39,176.48 L143.22,177.11 L144.05,177.73 L144.88,178.35 L145.71,178.95 L146.53,179.55 L147.36,180.15 L148.19,180.73 L149.02,181.31 L149.85,181.88 L150.68,182.44 L151.50,183.00 L152.33,183.55 L153.16,184.09 L153.99,184.63 L154.82,185.16 L155.65,185.68 L156.47,186.20 L157.30,186.71 L158.13,187.22 L158.96,187.72 L159.79,188.21 L160.62,188.70 L161.44,189.19 L162.27,189.66 L163.10,190.14 L163.93,190.60 L164.76,191.07 L165.59,191.52 L166.41,191.98 L167.24,192.42 L168.07,192.87 L168.90,193.30 L169.73,193.74 L170.56,194.17 L171.38,194.59 L172.21,195.01 L173.04,195.42 L173.87,195.84 L174.70,196.24 L175.53,196.64 L176.35,197.04 L177.18,197.44 L178.01,197.83 L178.84,198.21 L179.67,198.60 L180.49,198.97 L181.32,199.35 L182.15,199.72 L182.98,200.09 L183.81,200.45 L184.64,200.81 L185.46,201.17 L186.29,201.52 L187.12,201.87 L187.95,202.22 L188.78,202.56 L189.61,202.90 L190.43,203.24 L191.26,203.57 L192.09,203.90 L192.92,204.23 L193.75,204.55 L194.58,204.88 L195.40,205.19 L196.23,205.51 L197.06,205.82 L197.89,206.13 L198.72,206.44 L199.55,206.74 L200.37,207.05 L201.20,207.34 L202.03,207.64 L202.86,207.93 L203.69,208.23 L204.52,208.51 L205.34,208.80 L206.17,209.08 L207.00,209.37 L207.83,209.64 L208.66,209.92 L209.49,210.19 L210.31,210.47 L211.14,210.74 L211.97,211.00 L212.80,211.27 L213.63,211.53 L214.46,211.79 L215.28,212.05 L216.11,212.31 L216.94,212.56 L217.77,212.81 L218.60,213.06 L219.43,213.31 L220.25,213.56 L221.08,213.80 L221.91,214.04 L222.74,214.28 L223.57,214.52 L224.40,214.76 L225.22,214.99 L226.05,215.22 L226.88,215.45 L227.71,215.68 L228.54,215.91 L229.37,216.14 L230.19,216.36 L231.02,216.58 L231.85,216.80 L232.68,217.02 L233.51,217.24 L234.34,217.45 L235.16,217.67 L235.99,217.88 L236.82,218.09 L237.65,218.30 L238.48,218.51 L239.31,218.71 L240.13,218.92 L240.96,219.12 L241.79,219.32 L242.62,219.52 L243.45,219.72 L244.28,219.92 L245.10,220.11 L245.93,220.31 L246.76,220.50 L247.59,220.69 L248.42,220.88 L249.25,221.07 L250.07,221.26 L250.90,221.45 L251.73,221.63 L252.56,221.81 L253.39,222.00 L254.22,222.18 L255.04,222.36 L255.87,222.54 L256.70,222.71 L257.53,222.89 L258.36,223.06 L259.19,223.24 L260.01,223.41 L260.84,223.58 L261.67,223.75 L262.50,223.92 L263.33,224.09 L264.16,224.26 L264.98,224.42 L265.81,224.59 L266.64,224.75 L267.47,224.91 L268.30,225.07 L269.13,225.23 L269.95,225.39 L270.78,225.55 L271.61,225.71 L272.44,225.87 L273.27,226.02 L274.10,226.18 L274.92,226.33 L275.75,226.48 L276.58,226.63 L277.41,226.78 L278.24,226.93 L279.07,227.08 L279.89,227.23 L280.72,227.38 L281.55,227.52 L282.38,227.67 L283.21,227.81 L284.04,227.95 L284.86,228.10 L285.69,228.24 L286.52,228.38 L287.35,228.52 L288.18,228.66 L289.01,228.79 L289.83,228.93 L290.66,229.07 L291.49,229.20 L292.32,229.34 L293.15,229.47 L293.97,229.61 L294.80,229.74 L295.63,229.87 L296.46,230.00 L297.29,230.13 L298.12,230.26 L298.94,230.39 L299.77,230.52 L300.60,230.64 L301.43,230.77 L302.26,230.89 L303.09,231.02 L303.91,231.14 L304.74,231.27 L305.57,231.39 L306.40,231.51 L307.23,231.63 L308.06,231.75 L308.88,231.87 L309.71,231.99 L310.54,232.11 L311.37,232.23 L312.20,232.35 L313.03,232.46 L313.85,232.58 L314.68,232.69 L315.51,232.81 L316.34,232.92 L317.17,233.04 L318.00,233.15 L318.82,233.26 L319.65,233.37 L320.48,233.48 L321.31,233.60 L322.14,233.71 L322.97,233.81 L323.79,233.92 L324.62,234.03 L325.45,234.14 L326.28,234.25 L327.11,234.35 L327.94,234.46 L328.76,234.56 L329.59,234.67 L330.42,234.77 L331.25,234.88 L332.08,234.98 L332.91,235.08 L333.73,235.18 L334.56,235.28 L335.39,235.39 L336.22,235.49 L337.05,235.59 L337.88,235.68 L338.70,235.78 L339.53,235.88 L340.36,235.98 L341.19,236.08 L342.02,236.17 L342.85,236.27 L343.67,236.37 L344.50,236.46 L345.33,236.56 L346.16,236.65 L346.99,236.75 L347.82,236.84 L348.64,236.93 L349.47,237.02 L350.30,237.12 L351.13,237.21 L351.96,237.30 L352.79,237.39 L353.61,237.48 L354.44,237.57 L355.27,237.66 L356.10,237.75 L356.93,237.84 L357.76,237.93 L358.58,238.01 L359.41,238.10 L360.24,238.19 L361.07,238.27 L361.90,238.36 L362.73,238.45 L363.55,238.53 L364.38,238.62 L365.21,238.70 L366.04,238.78 L366.87,238.87 L367.70,238.95 L368.52,239.03 L369.35,239.12 L370.18,239.20 L371.01,239.28 L371.84,239.36 L372.67,239.44 L373.49,239.52 L374.32,239.60 L375.15,239.68 L375.98,239.76 L376.81,239.84 L377.64,239.92 L378.46,240.00 L379.29,240.08 L380.12,240.16 L380.95,240.23 L381.78,240.31 L382.61,240.39 L383.43,240.46 L384.26,240.54 L385.09,240.61 L385.92,240.69 L386.75,240.76 L387.58,240.84 L388.40,240.91 L389.23,240.99 L390.06,241.06 L390.89,241.13 L391.72,241.21 L392.55,241.28 L393.37,241.35 L394.20,241.42 L395.03,241.50 L395.86,241.57 L396.69,241.64 L397.52,241.71 L398.34,241.78 L399.17,241.85 L400.00,241.92" stroke="#a2a2a2" stroke-width="2.3" stroke-dasharray="5.4 3.901" stroke-dashoffset="7.446"/>
<path d="M111.24,24.50 L111.26,24.57 L111.31,24.71 L111.37,24.89 L111.44,25.10 L111.53,25.33 L111.62,25.59 L111.72,25.88 L111.82,26.18 L111.93,26.50 L112.05,26.84 L112.18,27.20 L112.31,27.57 L112.45,27.96 L112.59,28.36 L112.74,28.77 L112.89,29.20 L113.05,29.64 L113.21,30.09 L113.38,30.55 L113.55,31.02 L113.73,31.50 L113.91,32.00 L114.09,32.50 L114.28,33.01 L114.47,33.53 L114.67,34.06 L114.87,34.59 L115.07,35.14 L115.28,35.69 L115.49,36.25 L115.71,36.81 L115.92,37.39 L116.15,37.97 L116.37,38.55 L116.60,39.14 L116.83,39.74 L117.07,40.34 L117.30,40.95 L117.54,41.56 L117.79,42.18 L118.04,42.80 L118.29,43.43 L118.54,44.06 L118.80,44.70 L119.06,45.34 L119.32,45.98 L119.58,46.63 L119.85,47.28 L120.12,47.93 L120.39,48.59 L120.67,49.25 L120.95,49.92 L121.23,50.58 L121.52,51.25 L121.80,51.93 L122.09,52.60 L122.38,53.28 L122.68,53.96 L122.98,54.64 L123.28,55.32 L123.58,56.01 L123.88,56.69 L124.19,57.38 L124.50,58.07 L124.81,58.76 L125.13,59.46 L125.44,60.15 L125.76,60.85 L126.08,61.54 L126.41,62.24 L126.73,62.94 L127.06,63.64 L127.39,64.34 L127.73,65.04 L128.06,65.74 L128.40,66.44 L128.74,67.14 L129.08,67.84 L129.43,68.54 L129.77,69.25 L130.12,69.95 L130.47,70.65 L130.82,71.35 L131.18,72.06 L131.54,72.76 L131.90,73.46 L132.26,74.16 L132.62,74.86 L132.99,75.56 L133.35,76.27 L133.72,76.97 L134.10,77.66 L134.47,78.36 L134.84,79.06 L135.22,79.76 L135.60,80.46 L135.98,81.15 L136.37,81.85 L136.75,82.54 L137.14,83.24 L137.53,83.93 L137.92,84.62 L138.32,85.31 L138.71,86.00 L139.11,86.69 L139.51,87.37 L139.91,88.06 L140.31,88.74 L140.72,89.43 L141.12,90.11 L141.53,90.79 L141.94,91.47 L142.35,92.15 L142.77,92.82 L143.18,93.50 L143.60,94.17 L144.02,94.84 L144.44,95.51 L144.86,96.18 L145.29,96.85 L145.72,97.51 L146.14,98.18 L146.57,98.84 L147.01,99.50 L147.44,100.16 L147.87,100.82 L148.31,101.47 L148.75,102.13 L149.19,102.78 L149.63,103.43 L150.08,104.08 L150.52,104.72 L150.97,105.37 L151.42,106.01 L151.87,106.65 L152.32,107.29 L152.78,107.93 L153.23,108.56 L153.69,109.20 L154.15,109.83 L154.61,110.46 L155.07,111.09 L155.53,111.71 L156.00,112.34 L156.47,112.96 L156.94,113.58 L157.41,114.20 L157.88,114.81 L158.35,115.43 L158.83,116.04 L159.30,116.65 L159.78,117.25 L160.26,117.86 L160.74,118.46 L161.23,119.06 L161.71,119.66 L162.20,120.26 L162.68,120.86 L163.17,121.45 L163.66,122.04 L164.16,122.63 L164.65,123.22 L165.15,123.80 L165.64,124.38 L166.14,124.97 L166.64,125.54 L167.14,126.12 L167.65,126.70 L168.15,127.27 L168.66,127.84 L169.16,128.41 L169.67,128.97 L170.18,129.54 L170.69,130.10 L171.21,130.66 L171.72,131.21 L172.24,131.77 L172.76,132.32 L173.28,132.88 L173.80,133.42 L174.32,133.97 L174.84,134.52 L175.37,135.06 L175.89,135.60 L176.42,136.14 L176.95,136.68 L177.48,137.21 L178.01,137.74 L178.55,138.27 L179.08,138.80 L179.62,139.33 L180.16,139.85 L180.69,140.37 L181.24,140.89 L181.78,141.41 L182.32,141.93 L182.87,142.44 L183.41,142.95 L183.96,143.46 L184.51,143.97 L185.06,144.48 L185.61,144.98 L186.16,145.48 L186.72,145.98 L187.27,146.48 L187.83,146.98 L188.39,147.47 L188.95,147.96 L189.51,148.45 L190.07,148.94 L190.63,149.42 L191.20,149.91 L191.77,150.39 L192.33,150.87 L192.90,151.35 L193.47,151.82 L194.05,152.30 L194.62,152.77 L195.19,153.24 L195.77,153.71 L196.35,154.17 L196.92,154.64 L197.50,155.10 L198.08,155.56 L198.67,156.02 L199.25,156.47 L199.84,156.93 L200.42,157.38 L201.01,157.83 L201.60,158.28 L202.19,158.73 L202.78,159.17 L203.37,159.62 L203.96,160.06 L204.56,160.50 L205.16,160.94 L205.75,161.37 L206.35,161.81 L206.95,162.24 L207.55,162.67 L208.16,163.10 L208.76,163.53 L209.37,163.95 L209.97,164.37 L210.58,164.80 L211.19,165.22 L211.80,165.63 L212.41,166.05 L213.02,166.46 L213.64,166.88 L214.25,167.29 L214.87,167.70 L215.48,168.11 L216.10,168.51 L216.72,168.92 L217.34,169.32 L217.97,169.72 L218.59,170.12 L219.22,170.52 L219.84,170.91 L220.47,171.31 L221.10,171.70 L221.73,172.09 L222.36,172.48 L222.99,172.87 L223.62,173.25 L224.26,173.64 L224.89,174.02 L225.53,174.40 L226.17,174.78 L226.81,175.16 L227.45,175.53 L228.09,175.91 L228.73,176.28 L229.37,176.65 L230.02,177.02 L230.67,177.39 L231.31,177.76 L231.96,178.12 L232.61,178.49 L233.26,178.85 L233.91,179.21 L234.57,179.57 L235.22,179.93 L235.88,180.28 L236.53,180.64 L237.19,180.99 L237.85,181.34 L238.51,181.69 L239.17,182.04 L239.83,182.39 L240.50,182.73 L241.16,183.08 L241.83,183.42 L242.49,183.76 L243.16,184.10 L243.83,184.44 L244.50,184.78 L245.17,185.12 L245.84,185.45 L246.52,185.78 L247.19,186.11 L247.87,186.44 L248.55,186.77 L249.22,187.10 L249.90,187.43 L250.58,187.75 L251.26,188.08 L251.95,188.40 L252.63,188.72 L253.32,189.04 L254.00,189.36 L254.69,189.67 L255.38,189.99 L256.07,190.30 L256.76,190.62 L257.45,190.93 L258.14,191.24 L258.83,191.55 L259.53,191.85 L260.22,192.16 L260.92,192.47 L261.62,192.77 L262.32,193.07 L263.02,193.37 L263.72,193.67 L264.42,193.97 L265.12,194.27 L265.83,194.57 L266.53,194.86 L267.24,195.16 L267.95,195.45 L268.66,195.74 L269.36,196.03 L270.08,196.32 L270.79,196.61 L271.50,196.89 L272.21,197.18 L272.93,197.47 L273.64,197.75 L274.36,198.03 L275.08,198.31 L275.80,198.59 L276.52,198.87 L277.24,199.15 L277.96,199.42 L278.69,199.70 L279.41,199.97 L280.14,200.25 L280.86,200.52 L281.59,200.79 L282.32,201.06 L283.05,201.33 L283.78,201.60 L284.51,201.86 L285.24,202.13 L285.98,202.39 L286.71,202.66 L287.45,202.92 L288.18,203.18 L288.92,203.44 L289.66,203.70 L290.40,203.96 L291.14,204.22 L291.88,204.47 L292.63,204.73 L293.37,204.98 L294.11,205.23 L294.86,205.49 L295.61,205.74 L296.36,205.99 L297.10,206.24 L297.85,206.48 L298.61,206.73 L299.36,206.98 L300.11,207.22 L300.86,207.47 L301.62,207.71 L302.38,207.95 L303.13,208.19 L303.89,208.43 L304.65,208.67 L305.41,208.91 L306.17,209.15 L306.93,209.38 L307.70,209.62 L308.46,209.85 L309.22,210.09 L309.99,210.32 L310.76,210.55 L311.52,210.78 L312.29,211.01 L313.06,211.24 L313.83,211.47 L314.61,211.70 L315.38,211.93 L316.15,212.15 L316.93,212.38 L317.70,212.60 L318.48,212.82 L319.26,213.05 L320.04,213.27 L320.82,213.49 L321.60,213.71 L322.38,213.93 L323.16,214.14 L323.94,214.36 L324.73,214.58 L325.51,214.79 L326.30,215.01 L327.09,215.22 L327.88,215.43 L328.66,215.65 L329.45,215.86 L330.25,216.07 L331.04,216.28 L331.83,216.49 L332.63,216.69 L333.42,216.90 L334.22,217.11 L335.01,217.31 L335.81,217.52 L336.61,217.72 L337.41,217.93 L338.21,218.13 L339.01,218.33 L339.81,218.53 L340.62,218.73 L341.42,218.93 L342.23,219.13 L343.03,219.33 L343.84,219.53 L344.65,219.72 L345.46,219.92 L346.27,220.11 L347.08,220.31 L347.89,220.50 L348.70,220.69 L349.52,220.89 L350.33,221.08 L351.15,221.27 L351.96,221.46 L352.78,221.65 L353.60,221.84 L354.42,222.02 L355.24,222.21 L356.06,222.40 L356.88,222.58 L357.70,222.77 L358.53,222.95 L359.35,223.14 L360.18,223.32 L361.01,223.50 L361.83,223.68 L362.66,223.87 L363.49,224.05 L364.32,224.23 L365.15,224.40 L365.98,224.58 L366.82,224.76 L367.65,224.94 L368.49,225.11 L369.32,225.29 L370.16,225.47 L371.00,225.64 L371.83,225.81 L372.67,225.99 L373.51,226.16 L374.35,226.33 L375.20,226.50 L376.04,226.67 L376.88,226.84 L377.73,227.01 L378.57,227.18 L379.42,227.35 L380.27,227.52 L381.12,227.69 L381.96,227.85 L382.81,228.02 L383.67,228.18 L384.52,228.35 L385.37,228.51 L386.22,228.68 L387.08,228.84 L387.93,229.00 L388.79,229.16 L389.65,229.33 L390.50,229.49 L391.36,229.65 L392.22,229.81 L393.08,229.96 L393.95,230.12 L394.81,230.28 L395.67,230.44 L396.53,230.60 L397.40,230.75 L398.27,230.91 L399.13,231.06 L400.00,231.22" stroke="#000" stroke-width="2.3" stroke-dasharray="5.4 3.955" stroke-dashoffset="2.22"/>
<path d="M130.40,23.00 C129.92,24.00 128.25,26.80 127.50,29.00 C126.75,31.20 126.12,33.38 125.90,36.20 C125.68,39.02 126.10,43.60 126.20,45.90 C126.30,48.20 126.15,47.38 126.50,50.00 C126.85,52.62 127.52,57.98 128.30,61.60 C129.08,65.22 130.13,67.97 131.20,71.70 C132.27,75.43 133.68,80.78 134.70,84.00 C135.72,87.22 136.37,88.40 137.30,91.00 C138.23,93.60 139.08,96.55 140.30,99.60 C141.52,102.65 142.98,106.47 144.60,109.30 C146.22,112.13 148.08,114.37 150.00,116.60 C151.92,118.83 154.08,120.97 156.10,122.70 C158.12,124.43 160.08,125.85 162.10,127.00 C164.12,128.15 166.17,128.73 168.20,129.60 C170.23,130.47 171.27,130.92 174.30,132.20 C177.33,133.48 183.78,136.15 186.40,137.30 C189.02,138.45 187.38,137.88 190.00,139.10 C192.62,140.32 198.67,142.78 202.10,144.60 C205.53,146.42 208.13,148.23 210.60,150.00 C213.07,151.77 215.08,153.70 216.90,155.20 C218.72,156.70 220.30,157.85 221.50,159.00 C222.70,160.15 223.07,160.37 224.10,162.10 C225.13,163.83 226.68,166.97 227.70,169.40 C228.72,171.83 229.53,174.77 230.20,176.70 C230.87,178.63 231.15,178.83 231.70,181.00 C232.25,183.17 232.70,186.83 233.50,189.70 C234.30,192.57 235.08,195.62 236.50,198.20 C237.92,200.78 239.87,203.18 242.00,205.20 C244.13,207.22 246.07,208.63 249.30,210.30 C252.53,211.97 258.78,214.08 261.40,215.20 C264.02,216.32 262.38,216.10 265.00,217.00 C267.62,217.90 273.90,219.68 277.10,220.60 C280.30,221.52 280.15,221.58 284.20,222.50 C288.25,223.42 296.27,225.07 301.40,226.10 C306.53,227.13 309.95,227.83 315.00,228.70 C320.05,229.57 325.30,230.17 331.70,231.30 C338.10,232.43 346.17,234.35 353.40,235.50 C360.63,236.65 368.42,237.45 375.10,238.20 C381.78,238.95 390.43,239.70 393.50,240.00" stroke="#f00" stroke-width="1.5"/>
<path d="M108.70,23.00 C108.47,24.17 107.60,27.83 107.30,30.00 C107.00,32.17 106.92,34.00 106.90,36.00 C106.88,38.00 107.02,40.00 107.20,42.00 C107.38,44.00 107.67,46.00 108.00,48.00 C108.33,50.00 108.72,51.73 109.20,54.00 C109.68,56.27 110.13,58.17 110.90,61.60 C111.67,65.03 112.88,70.70 113.80,74.60 C114.72,78.50 115.52,81.65 116.40,85.00 C117.28,88.35 117.95,91.67 119.10,94.70 C120.25,97.73 121.58,100.57 123.30,103.20 C125.02,105.83 127.17,108.38 129.40,110.50 C131.63,112.62 134.07,114.18 136.70,115.90 C139.33,117.62 142.98,119.63 145.20,120.80 C147.42,121.97 147.18,121.93 150.00,122.90 C152.82,123.87 158.05,125.35 162.10,126.60 C166.15,127.85 170.25,129.18 174.30,130.40 C178.35,131.62 183.78,133.12 186.40,133.90 C189.02,134.68 187.38,134.12 190.00,135.10 C192.62,136.08 198.67,138.12 202.10,139.80 C205.53,141.48 208.00,143.50 210.60,145.20 C213.20,146.90 215.07,148.27 217.70,150.00 C220.33,151.73 223.82,153.98 226.40,155.60 C228.98,157.22 230.45,158.10 233.20,159.70 C235.95,161.30 240.07,163.28 242.90,165.20 C245.73,167.12 248.18,169.28 250.20,171.20 C252.22,173.12 253.95,175.38 255.00,176.70 C256.05,178.02 256.17,178.05 256.50,179.10 C256.83,180.15 256.78,181.23 257.00,183.00 C257.22,184.77 257.17,187.17 257.80,189.70 C258.43,192.23 259.38,195.67 260.80,198.20 C262.22,200.73 264.38,202.88 266.30,204.90 C268.22,206.92 269.88,208.73 272.30,210.30 C274.72,211.87 276.97,212.58 280.80,214.30 C284.63,216.02 289.60,218.55 295.30,220.60 C301.00,222.65 308.93,225.00 315.00,226.60 C321.07,228.20 325.30,228.88 331.70,230.20 C338.10,231.52 346.17,233.35 353.40,234.50 C360.63,235.65 368.42,236.37 375.10,237.10 C381.78,237.83 390.43,238.60 393.50,238.90" stroke="#00f" stroke-width="1.5"/>
<path d="M110.80,23.00 C110.75,24.17 110.48,27.50 110.50,30.00 C110.52,32.50 110.65,35.33 110.90,38.00 C111.15,40.67 111.60,43.33 112.00,46.00 C112.40,48.67 112.87,51.40 113.30,54.00 C113.73,56.60 113.92,58.17 114.60,61.60 C115.28,65.03 116.35,70.70 117.40,74.60 C118.45,78.50 119.92,82.05 120.90,85.00 C121.88,87.95 122.28,89.67 123.30,92.30 C124.32,94.93 125.58,98.18 127.00,100.80 C128.42,103.42 129.98,105.78 131.80,108.00 C133.62,110.22 135.47,112.17 137.90,114.10 C140.33,116.03 144.38,118.33 146.40,119.60 C148.42,120.87 147.38,120.57 150.00,121.70 C152.62,122.83 158.05,124.92 162.10,126.40 C166.15,127.88 170.25,129.25 174.30,130.60 C178.35,131.95 183.78,133.60 186.40,134.50 C189.02,135.40 187.38,134.98 190.00,136.00 C192.62,137.02 198.67,138.88 202.10,140.60 C205.53,142.32 207.72,144.38 210.60,146.30 C213.48,148.22 216.77,150.35 219.40,152.10 C222.03,153.85 224.10,155.23 226.40,156.80 C228.70,158.37 230.65,159.80 233.20,161.50 C235.75,163.20 239.27,165.07 241.70,167.00 C244.13,168.93 246.18,171.08 247.80,173.10 C249.42,175.12 250.58,177.15 251.40,179.10 C252.22,181.05 252.25,182.43 252.70,184.80 C253.15,187.17 253.35,190.67 254.10,193.30 C254.85,195.93 255.78,198.27 257.20,200.60 C258.62,202.93 260.48,205.37 262.60,207.30 C264.72,209.23 267.83,210.98 269.90,212.20 C271.97,213.42 273.35,213.80 275.00,214.60 C276.65,215.40 276.42,215.68 279.80,217.00 C283.18,218.32 289.43,220.73 295.30,222.50 C301.17,224.27 308.93,226.23 315.00,227.60 C321.07,228.97 325.30,229.47 331.70,230.70 C338.10,231.93 346.17,233.85 353.40,235.00 C360.63,236.15 368.42,236.87 375.10,237.60 C381.78,238.33 390.43,239.10 393.50,239.40" stroke="#000" stroke-width="1.95"/>
</g>
<circle cx="216.9" cy="155.2" r="3.4" fill="#f00"/>
<circle cx="242.0" cy="205.2" r="3.4" fill="#f00"/>
<circle cx="284.2" cy="222.5" r="3.4" fill="#f00"/>
<circle cx="217.7" cy="150.0" r="3.5" fill="#00f"/>
<circle cx="256.5" cy="179.1" r="3.5" fill="#00f"/>
<circle cx="280.8" cy="214.3" r="3.5" fill="#00f"/>
<circle cx="219.4" cy="152.1" r="3.6" fill="#000"/>
<circle cx="252.7" cy="184.8" r="3.6" fill="#000"/>
<circle cx="279.8" cy="217.0" r="3.6" fill="#000"/>
<g stroke="#000" stroke-width="1" fill="none">
<path d="M72.50,23.00V250.50H393.50V23.00"/>
<path d="M72.00,23.00H394.00" stroke="#2a2a2a"/>
<path d="M91.50,250.50v-2.60 M91.50,23.00v2.60"/>
<path d="M110.50,250.50v-4.80 M110.50,23.00v4.80"/>
<path d="M129.50,250.50v-2.60 M129.50,23.00v2.60"/>
<path d="M148.50,250.50v-2.60 M148.50,23.00v2.60"/>
<path d="M166.50,250.50v-2.60 M166.50,23.00v2.60"/>
<path d="M185.50,250.50v-2.60 M185.50,23.00v2.60"/>
<path d="M204.50,250.50v-4.80 M204.50,23.00v4.80"/>
<path d="M223.50,250.50v-2.60 M223.50,23.00v2.60"/>
<path d="M242.50,250.50v-2.60 M242.50,23.00v2.60"/>
<path d="M261.50,250.50v-2.60 M261.50,23.00v2.60"/>
<path d="M280.50,250.50v-2.60 M280.50,23.00v2.60"/>
<path d="M299.50,250.50v-4.80 M299.50,23.00v4.80"/>
<path d="M317.50,250.50v-2.60 M317.50,23.00v2.60"/>
<path d="M336.50,250.50v-2.60 M336.50,23.00v2.60"/>
<path d="M355.50,250.50v-2.60 M355.50,23.00v2.60"/>
<path d="M374.50,250.50v-2.60 M374.50,23.00v2.60"/>
<path d="M72.50,34.50h2.70 M393.50,34.50h-2.70"/>
<path d="M72.50,46.50h2.70 M393.50,46.50h-2.70"/>
<path d="M72.50,58.50h2.70 M393.50,58.50h-2.70"/>
<path d="M72.50,70.50h5.20 M393.50,70.50h-5.20"/>
<path d="M72.50,82.50h2.70 M393.50,82.50h-2.70"/>
<path d="M72.50,94.50h2.70 M393.50,94.50h-2.70"/>
<path d="M72.50,106.50h2.70 M393.50,106.50h-2.70"/>
<path d="M72.50,118.50h5.20 M393.50,118.50h-5.20"/>
<path d="M72.50,130.50h2.70 M393.50,130.50h-2.70"/>
<path d="M72.50,142.50h2.70 M393.50,142.50h-2.70"/>
<path d="M72.50,154.50h2.70 M393.50,154.50h-2.70"/>
<path d="M72.50,166.50h5.20 M393.50,166.50h-5.20"/>
<path d="M72.50,178.50h2.70 M393.50,178.50h-2.70"/>
<path d="M72.50,190.50h2.70 M393.50,190.50h-2.70"/>
<path d="M72.50,202.50h2.70 M393.50,202.50h-2.70"/>
<path d="M72.50,214.50h5.20 M393.50,214.50h-5.20"/>
<path d="M72.50,226.50h2.70 M393.50,226.50h-2.70"/>
<path d="M72.50,238.50h2.70 M393.50,238.50h-2.70"/>
</g>
<g font-family="Liberation Sans, sans-serif" font-size="14" fill="#000">
<text x="110.56" y="268.2" text-anchor="middle" textLength="21.9" lengthAdjust="spacingAndGlyphs">500</text>
<text x="204.98" y="268.2" text-anchor="middle" textLength="29.1" lengthAdjust="spacingAndGlyphs">1000</text>
<text x="299.39" y="268.2" text-anchor="middle" textLength="29.1" lengthAdjust="spacingAndGlyphs">1500</text>
<text x="393.80" y="268.2" text-anchor="middle" textLength="29.1" lengthAdjust="spacingAndGlyphs">2000</text>
<text x="69.2" y="27.40" text-anchor="end" font-size="13.6">-6</text>
<text x="69.2" y="75.29" text-anchor="end" font-size="13.6">-4</text>
<text x="69.2" y="123.19" text-anchor="end" font-size="13.6">-2</text>
<text x="69.2" y="171.08" text-anchor="end" font-size="13.6">0</text>
<text x="69.2" y="218.98" text-anchor="end" font-size="13.6">2</text>
<text x="232.8" y="283.4" text-anchor="middle" font-size="13.6">T (K)</text>
<text transform="translate(46.4,136) rotate(-90)" text-anchor="middle" font-size="13.8">P (bar)</text>
</g>
<g font-family="Liberation Sans, sans-serif" font-size="13.7">
<text x="299.5" y="71.3" fill="#f00">M star</text>
<text x="299.5" y="95.3" fill="#00f">F star</text>
<text x="299.5" y="119.4" fill="#000">The Sun</text>
</g>
</svg>
</body></html>
